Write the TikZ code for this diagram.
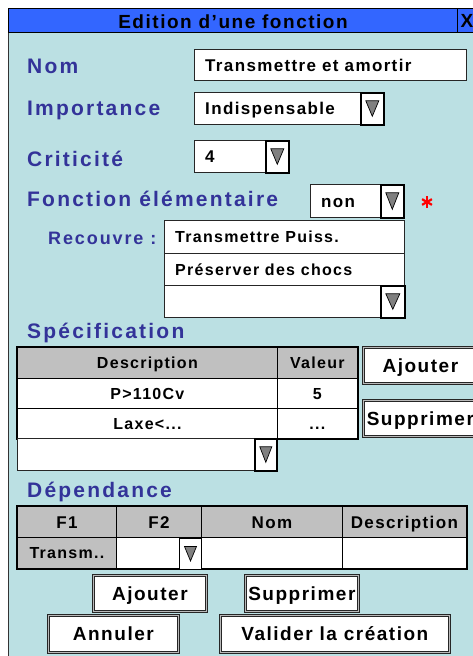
\documentclass[tikz,border=0pt]{standalone}
\usepackage{fontspec}
\setmainfont{Liberation Sans}[LetterSpace=8]
\usetikzlibrary{positioning}
\definecolor{titleblue}{RGB}{51,102,255}
\definecolor{windowcyan}{RGB}{187,224,227}
\definecolor{labelblue}{RGB}{51,51,153}
\definecolor{headgray}{RGB}{192,192,192}
\definecolor{arrowgray}{RGB}{128,128,128}
\definecolor{starred}{RGB}{255,0,0}
\tikzstyle{fieldLabel} = [
 anchor = base west,
 inner sep = 0pt,
 text = labelblue,
 font = \bfseries\fontsize{21}{24}\selectfont\addfontfeature{LetterSpace=10.5}
]
\tikzstyle{subLabel} = [
 fieldLabel,
 font = \bfseries\fontsize{18}{20}\selectfont\addfontfeature{LetterSpace=10.5}
]
\tikzstyle{field} = [
 rectangle,
 draw = black!85,
 line width = 0.8pt,
 fill = white,
 anchor = north west,
 inner sep = 0pt
]
\tikzstyle{fieldText} = [
 anchor = west,
 inner sep = 0pt,
 text height = 12.2pt,
 text depth = 0pt,
 font = \bfseries\fontsize{17}{20}\selectfont
]
\tikzstyle{listText} = [
 fieldText,
 text height = 11.5pt,
 font = \bfseries\fontsize{16}{18}\selectfont
]
\tikzstyle{arrowBox} = [
 rectangle,
 draw = black,
 line width = 1.6pt,
 fill = white,
 anchor = north west,
 inner sep = 0pt,
 minimum width = 23pt,
 path picture = {
   \draw [fill=arrowgray, line width=0.7pt]
     ([xshift=5pt,yshift=-8pt]path picture bounding box.north west)
     -- ([xshift=-5pt,yshift=-8pt]path picture bounding box.north east)
     -- ([yshift=8.5pt]path picture bounding box.south) -- cycle;
 }
]
\tikzstyle{cell} = [
 rectangle,
 draw = black,
 line width = 0.8pt,
 fill = white,
 anchor = north west,
 inner sep = 0pt,
 text height = 11.5pt,
 text depth = 0pt,
 font = \bfseries\fontsize{16}{18}\selectfont
]
\tikzstyle{headCell} = [
 cell,
 fill = headgray
]
\tikzstyle{depCell} = [
 cell,
 text height = 12.2pt,
 font = \bfseries\fontsize{17}{19}\selectfont
]
\tikzstyle{tableFrame} = [
 draw = black,
 line width = 2.6pt
]
\tikzstyle{button} = [
 rectangle,
 draw = black!85,
 line width = 0.7pt,
 double = gray!55,
 double distance = 1.4pt,
 fill = white,
 anchor = north west,
 inner sep = 0pt,
 text height = 13.7pt,
 text depth = 0pt,
 font = \bfseries\fontsize{19}{22}\selectfont
]
\tikzstyle{titleText} = [
 inner sep = 0pt,
 text height = 13.7pt,
 text depth = 0pt,
 font = \bfseries\fontsize{19}{22}\selectfont
]
\tikzstyle{starSpoke} = [
 draw = starred,
 line width = 2.2pt
]
\begin{document}
\begin{tikzpicture}[x=1pt, y=-1pt]
  \useasboundingbox (0,0) rectangle (473,656);
  \node [rectangle, draw=black!80, line width=1.3pt, fill=windowcyan, anchor=north west,
    minimum width=480pt, minimum height=660pt] (window) at (8,8) {};
  \node [rectangle, draw=black, line width=0.8pt, fill=titleblue, anchor=north west,
    minimum width=480pt, minimum height=24pt] (titleBar) at (8,8) {};
  \node [rectangle, draw=black, line width=0.8pt, anchor=north west,
    minimum width=30pt, minimum height=24pt] (closeBox) at (457,8) {};
  \node [titleText] (titleLabel) at (233,21.6) {Edition d’une fonction};
  \node [titleText, anchor=west, right=3.5pt of closeBox.west] (closeText) {X};

  \node [fieldLabel] (nomLabel) at (27,73.5) {Nom};
  \node [field, minimum width=272pt, minimum height=31pt] (nomBox) at (194,49) {};
  \node [fieldText, right=11pt of nomBox.west] (nomText) {Transmettre et amortir};

  \node [fieldLabel] (impLabel) at (27,115.5) {Importance};
  \node [field, minimum width=166pt, minimum height=32pt] (impBox) at (194,92) {};
  \node [arrowBox, minimum height=32pt] (impArrow) at (360,92) {};
  \node [fieldText, right=11pt of impBox.west] (impText) {Indispensable};

  \node [fieldLabel] (critLabel) at (27,166) {Criticité};
  \node [field, minimum width=72pt, minimum height=32pt] (critBox) at (194,140) {};
  \node [arrowBox, minimum height=32pt] (critArrow) at (265,140) {};
  \node [fieldText, right=11pt of critBox.west] (critText) {4};

  \node [fieldLabel] (elemLabel) at (27,206.5) {Fonction élémentaire};
  \node [field, minimum width=70pt, minimum height=33pt] (elemBox) at (310,184) {};
  \node [arrowBox, minimum height=33pt] (elemArrow) at (380,184) {};
  \node [fieldText, right=11pt of elemBox.west] (elemText) {non};
  \node [circle, inner sep=0pt, minimum size=11pt] (elemStar) at (427,202) {};
  \draw [starSpoke] (elemStar.90) -- (elemStar.270);
  \draw [starSpoke] (elemStar.30) -- (elemStar.210);
  \draw [starSpoke] (elemStar.150) -- (elemStar.330);

  \node [subLabel] (recLabel) at (48,244) {Recouvre :};
  \node [field, minimum width=240pt, minimum height=33pt] (recRow1) at (164,220) {};
  \node [field, minimum width=240pt, minimum height=32pt] (recRow2) at (164,253) {};
  \node [field, minimum width=216pt, minimum height=32pt] (recRow3) at (164,285) {};
  \node [arrowBox, minimum width=24pt, minimum height=32pt] (recArrow) at (380,285) {};
  \node [listText, right=11pt of recRow1.west] (recText1) {Transmettre Puiss.};
  \node [listText, right=11pt of recRow2.west] (recText2) {Préserver des chocs};

  \node [fieldLabel] (specLabel) at (27,338) {Spécification};
  \node [headCell, minimum width=260pt, minimum height=31pt] (specHeadDesc) at (17,347) {Description};
  \node [headCell, minimum width=80pt, minimum height=31pt] (specHeadVal) at (277,347) {Valeur};
  \node [cell, minimum width=260pt, minimum height=30pt] (specDesc1) at (17,378) {P>110Cv};
  \node [cell, minimum width=80pt, minimum height=30pt] (specVal1) at (277,378) {5};
  \node [cell, minimum width=260pt, minimum height=30pt] (specDesc2) at (17,408) {Laxe<...};
  \node [cell, minimum width=80pt, minimum height=30pt] (specVal2) at (277,408) {...};
  \draw [tableFrame] (specHeadDesc.north west) rectangle (specVal2.south east);
  \node [field, minimum width=237pt, minimum height=32pt] (specCombo) at (17,438) {};
  \node [arrowBox, minimum width=22pt, minimum height=32pt] (specArrow) at (254,438) {};
  \node [button, minimum width=114pt, minimum height=36pt] (specAdd) at (363,347) {Ajouter};
  \node [button, minimum width=114pt, minimum height=36pt] (specDel) at (363,400) {Supprimer};

  \node [fieldLabel] (depLabel) at (27,497) {Dépendance};
  \node [depCell, fill=headgray, minimum width=99pt, minimum height=31pt] (depHeadF1) at (17,506) {F1};
  \node [depCell, fill=headgray, minimum width=85pt, minimum height=31pt] (depHeadF2) at (116,506) {F2};
  \node [depCell, fill=headgray, minimum width=141pt, minimum height=31pt] (depHeadNom) at (201,506) {Nom};
  \node [depCell, fill=headgray, minimum width=124pt, minimum height=31pt] (depHeadDesc) at (342,506) {Description};
  \node [cell, fill=headgray, minimum width=99pt, minimum height=31pt] (depF1) at (17,537) {Transm..};
  \node [depCell, minimum width=85pt, minimum height=31pt] (depF2) at (116,537) {};
  \node [depCell, minimum width=141pt, minimum height=31pt] (depNom) at (201,537) {};
  \node [depCell, minimum width=124pt, minimum height=31pt] (depDesc) at (342,537) {};
  \draw [tableFrame] (depHeadF1.north west) rectangle (depDesc.south east);
  \node [arrowBox, line width=1pt, minimum width=22pt, minimum height=31pt] (depArrow) at (179,538) {};

  \node [button, minimum width=113pt, minimum height=36pt] (depAdd) at (93,575) {Ajouter};
  \node [button, minimum width=113pt, minimum height=36pt] (depDel) at (245,575) {Supprimer};
  \node [button, minimum width=130pt, minimum height=37pt] (cancelBtn) at (48,615) {Annuler};
  \node [button, minimum width=229pt, minimum height=37pt] (validBtn) at (220,615) {Valider la création};
\end{tikzpicture}
\end{document}
